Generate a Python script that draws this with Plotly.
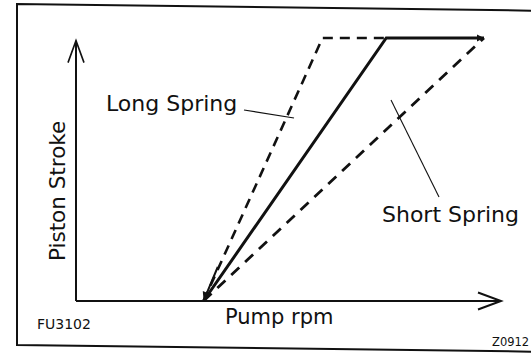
import plotly.graph_objects as go

W, H = 531, 356

# Pump speed (arbitrary units, axis runs 0-100) and piston stroke (% of full stroke)
normal_rpm = [30, 73, 96]
normal_stroke = [0, 100, 100]
long_rpm = [30, 58, 73]
long_stroke = [0, 100, 100]
short_rpm = [30, 96]
short_stroke = [0, 100]

x_title = "Pump rpm"
y_title = "Piston Stroke"
long_label = "Long Spring"
short_label = "Short Spring"
fig_code = "FU3102"
plate_code = "Z0912"

X_AXIS_END = 100
Y_AXIS_END = 99

# plot geometry: origin pixel and pixels per unit
ORIGIN_PX = (76, 301)
PX_PER_X = 4.25
PX_PER_Y = 2.63
x0 = -ORIGIN_PX[0] / PX_PER_X
x1 = x0 + W / PX_PER_X
y1 = ORIGIN_PX[1] / PX_PER_Y
y0 = y1 - H / PX_PER_Y

INK = "#111111"
FONT = "DejaVu Sans"


def px(x):
    return x / W


def py(y):
    return 1 - y / H


fig = go.Figure()

fig.add_trace(go.Scatter(x=long_rpm, y=long_stroke, mode="lines",
                         line=dict(color=INK, width=2.6, dash="10px,7px")))
fig.add_trace(go.Scatter(x=short_rpm, y=short_stroke, mode="lines",
                         line=dict(color=INK, width=2.8, dash="11px,8px")))
fig.add_trace(go.Scatter(x=normal_rpm, y=normal_stroke, mode="lines",
                         line=dict(color=INK, width=3)))

shapes = []
# axes
shapes.append(dict(type="line", xref="x", yref="y", x0=0, y0=0, x1=X_AXIS_END, y1=0,
                   line=dict(color=INK, width=2)))
shapes.append(dict(type="line", xref="x", yref="y", x0=0, y0=0, x1=0, y1=Y_AXIS_END,
                   line=dict(color=INK, width=2)))
# open arrowheads
hx, hy = 23 / PX_PER_X, 8.5 / PX_PER_Y
shapes.append(dict(type="path", xref="x", yref="y",
                   path=f"M {X_AXIS_END - hx},{hy} L {X_AXIS_END},0 L {X_AXIS_END - hx},{-hy}",
                   line=dict(color=INK, width=2)))
vx, vy = 8 / PX_PER_X, 22 / PX_PER_Y
shapes.append(dict(type="path", xref="x", yref="y",
                   path=f"M {-vx},{Y_AXIS_END - vy} L 0,{Y_AXIS_END} L {vx},{Y_AXIS_END - vy}",
                   line=dict(color=INK, width=1.6)))
# leader lines
shapes.append(dict(type="line", xref="paper", yref="paper",
                   x0=px(244), y0=py(110), x1=px(294), y1=py(118),
                   line=dict(color=INK, width=1.2)))
shapes.append(dict(type="line", xref="paper", yref="paper",
                   x0=px(391), y0=py(100), x1=px(439), y1=py(197),
                   line=dict(color=INK, width=1.1)))
# outer frame
shapes.append(dict(type="path", xref="paper", yref="paper",
                   path=f"M {px(560)},{py(11)} L {px(17)},{py(4)} L {px(17)},{py(345)} L {px(560)},{py(352)}",
                   line=dict(color=INK, width=2)))

annotations = []
# small arrowheads at the ends of the solid curve
annotations.append(dict(x=normal_rpm[0], y=normal_stroke[0], ax=normal_rpm[0] + 3.5,
                        ay=normal_stroke[0] + 13.5, xref="x", yref="y", axref="x", ayref="y",
                        text="", showarrow=True, arrowhead=2, arrowsize=0.9,
                        arrowwidth=2, arrowcolor=INK))
annotations.append(dict(x=normal_rpm[-1], y=normal_stroke[-1], ax=normal_rpm[-1] - 4,
                        ay=normal_stroke[-1], xref="x", yref="y", axref="x", ayref="y",
                        text="", showarrow=True, arrowhead=2, arrowsize=0.7,
                        arrowwidth=2, arrowcolor=INK))


def label(text, x, y, size, angle=0, xanchor="center"):
    annotations.append(dict(text=text, x=px(x), y=py(y), xref="paper", yref="paper",
                            showarrow=False, textangle=angle, xanchor=xanchor,
                            yanchor="middle", font=dict(family=FONT, size=size, color=INK)))


label(long_label, 104, 103, 22, xanchor="left")
label(short_label, 380, 214, 22, xanchor="left")
label(y_title, 57, 191, 21.5, angle=-90)
label(x_title, 279, 317, 21)
label(fig_code, 35, 324, 14, xanchor="left")
label(plate_code, 490, 342, 11.5, xanchor="left")

fig.update_layout(
    width=W, height=H,
    margin=dict(l=0, r=0, t=0, b=0),
    paper_bgcolor="white", plot_bgcolor="white",
    showlegend=False,
    xaxis=dict(range=[x0, x1], visible=False, fixedrange=True),
    yaxis=dict(range=[y0, y1], visible=False, fixedrange=True),
    shapes=shapes, annotations=annotations,
)

fig.write_html("out.html", config=dict(displayModeBar=False))
